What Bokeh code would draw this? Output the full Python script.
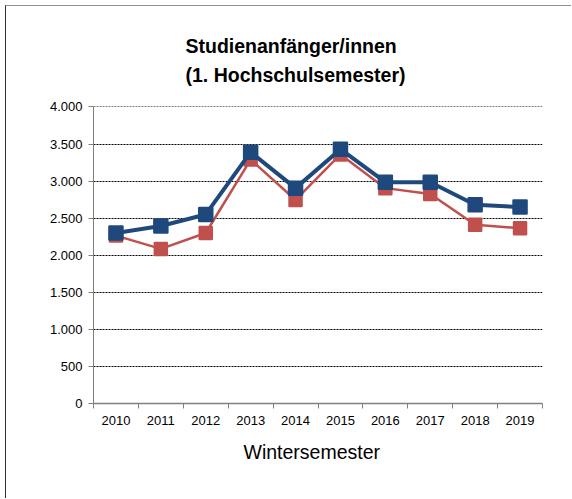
from bokeh.plotting import figure
from bokeh.models import Range1d, FixedTicker, Title
from bokeh.embed import file_html
from bokeh.resources import INLINE

years = [2010, 2011, 2012, 2013, 2014, 2015, 2016, 2017, 2018, 2019]
series_blue = [2300, 2395, 2550, 3390, 2905, 3430, 2985, 2985, 2680, 2650]
series_red = [2265, 2085, 2300, 3290, 2745, 3360, 2905, 2825, 2410, 2365]
y_ticks = [0, 500, 1000, 1500, 2000, 2500, 3000, 3500, 4000]
y_labels = ["0", "500", "1.000", "1.500", "2.000", "2.500", "3.000", "3.500", "4.000"]
title_lines = ["Studienanfänger/innen", "(1. Hochschulsemester)"]
x_title = "Wintersemester"

FONT = "Liberation Sans"
BLUE = "#1F497D"
RED = "#C0504D"

p = figure(width=566, height=493, output_backend="svg", toolbar_location=None,
           x_range=Range1d(years[0] - 0.5, years[-1] + 0.5), y_range=Range1d(0, 4006),
           min_border_left=87, min_border_right=30, min_border_top=100, min_border_bottom=96)
p.styles = {"margin-left": "5px", "margin-top": "5px",
            "border-left": "1px solid #303030", "border-top": "1px solid #909090"}
p.outline_line_color = None
p.background_fill_color = "white"
p.border_fill_color = "white"

p.title.text = "\n".join(title_lines)
p.title.text_font = FONT
p.title.text_font_size = "19.5px"
p.title.text_font_style = "bold"
p.title.text_color = "black"
p.title.text_line_height = 1.33
p.title.align = "left"
p.title.offset = 92
p.title.standoff = 40

# grid
p.xgrid.grid_line_color = None
p.ygrid.grid_line_color = "black"
p.ygrid.grid_line_dash = "2 1"
p.ygrid.grid_line_width = 1

# y axis
p.yaxis.ticker = FixedTicker(ticks=y_ticks)
p.yaxis.major_label_overrides = {t: l for t, l in zip(y_ticks, y_labels)}
p.yaxis.major_label_text_font = FONT
p.yaxis.major_label_text_font_size = "13px"
p.yaxis.major_label_text_color = "black"
p.yaxis.axis_line_color = "#808080"
p.yaxis.major_tick_line_color = "#808080"
p.yaxis.major_tick_out = 5
p.yaxis.major_tick_in = 0
p.yaxis.minor_tick_line_color = None
p.yaxis.major_label_standoff = 6

# x axis
half = [y - 0.5 for y in years] + [years[-1] + 0.5]
p.xaxis.ticker = FixedTicker(ticks=years, minor_ticks=half)
p.xaxis.major_label_overrides = {y: str(y) for y in years}
p.xaxis.major_label_text_font = FONT
p.xaxis.major_label_text_font_size = "13px"
p.xaxis.major_label_text_color = "black"
p.xaxis.axis_line_color = "#808080"
p.xaxis.axis_line_width = 1.5
p.xaxis.major_tick_line_color = None
p.xaxis.minor_tick_line_color = "#808080"
p.xaxis.minor_tick_out = 5
p.xaxis.minor_tick_in = 0
p.xaxis.major_label_standoff = 6

xlab = Title(text=x_title, text_font=FONT, text_font_size="19.5px",
             text_font_style="normal", text_color="black", align="left", offset=150, standoff=23)
p.add_layout(xlab, "below")

# series
p.line(years, series_red, line_color=RED, line_width=2.5)
p.scatter(years, series_red, marker="square", size=12, fill_color=RED,
          line_color=RED, line_width=2.5, line_join="round")
p.line(years, series_blue, line_color=BLUE, line_width=4)
p.scatter(years, series_blue, marker="square", size=13, fill_color=BLUE,
          line_color=BLUE, line_width=2.5, line_join="round")

open("out.html", "w").write(file_html(p, INLINE))
